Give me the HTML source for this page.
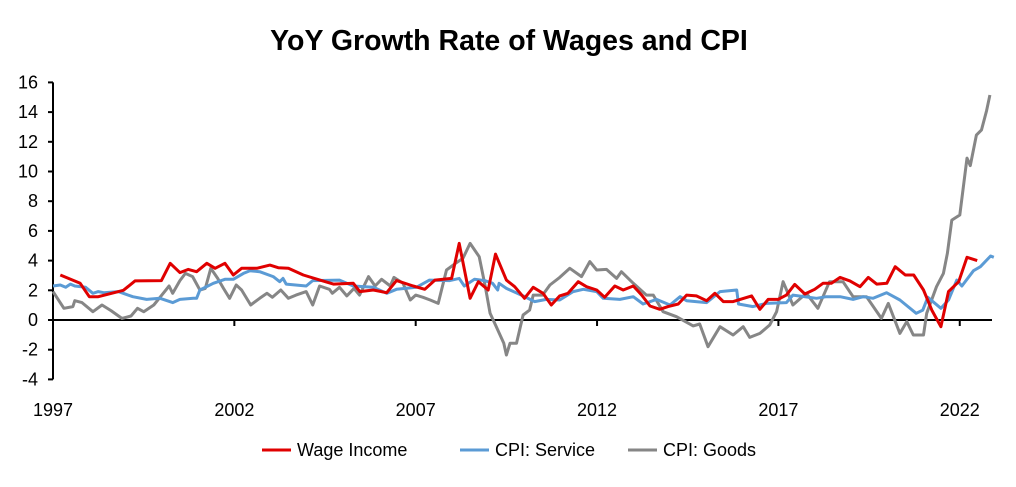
<!DOCTYPE html>
<html><head><meta charset="utf-8"><style>
body{margin:0;background:#fff;width:1016px;height:482px;overflow:hidden}
svg text{font-family:"Liberation Sans",sans-serif;fill:#000}
</style></head><body>
<svg id="chart" width="1016" height="482" viewBox="0 0 1016 482">
<text x="509" y="50" text-anchor="middle" font-size="28.5" font-weight="bold">YoY Growth Rate of Wages and CPI</text>
<g id="axes"></g>
<g id="series"></g>
<g id="legend"></g>
</svg>
<script>
const yTicks=[-4,-2,0,2,4,6,8,10,12,14,16];
const xTickYears=[1997,2002,2007,2012,2017,2022];
const wageT=[1997.2,1997.75,1998.0,1998.25,1998.94,1999.26,1999.99,2000.23,2000.5,2000.73,2000.96,2001.24,2001.47,2001.74,2001.97,2002.2,2002.62,2002.98,2003.21,2003.49,2003.9,2004.36,2004.73,2005.28,2005.46,2005.83,2006.2,2006.47,2006.93,2007.25,2007.53,2007.99,2008.2,2008.5,2008.73,2009.0,2009.2,2009.5,2009.73,2010.0,2010.24,2010.51,2010.74,2010.97,2011.2,2011.48,2011.71,2011.99,2012.21,2012.49,2012.72,2013.0,2013.23,2013.46,2013.73,2013.96,2014.24,2014.47,2014.74,2015.02,2015.25,2015.48,2015.75,2016.26,2016.49,2016.72,2016.99,2017.22,2017.45,2017.73,2018.0,2018.23,2018.46,2018.7,2018.97,2019.25,2019.48,2019.71,2019.99,2020.22,2020.5,2020.73,2021.0,2021.23,2021.48,2021.69,2021.97,2022.2,2022.48];
const wageV=[3.03,2.47,1.57,1.57,2.0,2.63,2.65,3.82,3.19,3.41,3.25,3.82,3.48,3.82,3.03,3.48,3.48,3.7,3.52,3.48,3.03,2.69,2.42,2.47,1.91,2.02,1.84,2.65,2.29,2.07,2.69,2.8,5.16,1.46,2.58,2.02,4.44,2.69,2.24,1.46,2.2,1.8,1.01,1.62,1.8,2.58,2.24,2.02,1.53,2.29,2.02,2.29,1.68,0.94,0.72,0.9,1.08,1.68,1.62,1.3,1.8,1.24,1.24,1.62,0.72,1.39,1.39,1.68,2.4,1.75,2.07,2.47,2.47,2.87,2.63,2.24,2.87,2.42,2.47,3.59,3.03,3.03,2.02,0.67,-0.45,1.91,2.58,4.22,4.0];
const svcT=[1997.0,1997.2,1997.35,1997.48,1997.6,1997.9,1998.1,1998.25,1998.4,1998.8,1999.2,1999.58,1999.95,2000.3,2000.5,2000.87,2000.96,2001.05,2001.42,2001.74,2001.97,2002.25,2002.43,2002.7,2003.07,2003.25,2003.34,2003.43,2003.98,2004.16,2004.9,2005.28,2005.83,2006.2,2006.47,2007.02,2007.38,2007.94,2008.2,2008.34,2008.62,2008.9,2009.12,2009.26,2009.3,2009.5,2009.6,2009.96,2010.28,2010.6,2010.97,2011.34,2011.62,2011.99,2012.17,2012.63,2013.0,2013.27,2013.64,2014.01,2014.29,2014.47,2015.02,2015.39,2015.85,2015.9,2016.3,2016.67,2017.22,2017.4,2018.05,2018.32,2018.7,2019.06,2019.34,2019.61,2019.98,2020.35,2020.8,2020.98,2021.12,2021.48,2021.69,2021.92,2022.06,2022.38,2022.57,2022.85,2022.94];
const svcV=[2.29,2.36,2.2,2.42,2.29,2.2,1.8,1.91,1.84,1.91,1.57,1.39,1.46,1.17,1.39,1.46,1.46,2.02,2.47,2.74,2.74,3.14,3.32,3.25,2.92,2.58,2.8,2.42,2.29,2.65,2.69,2.29,2.2,1.8,2.07,2.2,2.69,2.65,2.8,2.29,2.74,2.65,2.47,2.02,2.47,2.13,2.02,1.62,1.24,1.39,1.35,1.91,2.07,1.91,1.46,1.39,1.57,1.08,1.39,1.01,1.57,1.3,1.17,1.91,2.02,1.08,0.9,1.12,1.17,1.68,1.46,1.57,1.57,1.39,1.57,1.46,1.84,1.35,0.45,0.67,1.53,0.79,1.35,2.69,2.29,3.32,3.59,4.31,4.22];
const goodsT=[1997.0,1997.3,1997.55,1997.6,1997.8,1998.1,1998.35,1998.6,1998.9,1999.15,1999.33,1999.5,1999.78,2000.0,2000.2,2000.3,2000.5,2000.65,2000.85,2001.05,2001.2,2001.35,2001.54,2001.7,2001.87,2002.05,2002.2,2002.45,2002.7,2002.9,2003.05,2003.28,2003.49,2003.7,2003.98,2004.16,2004.35,2004.62,2004.7,2004.9,2005.1,2005.3,2005.45,2005.7,2005.88,2006.06,2006.3,2006.4,2006.65,2006.85,2007.0,2007.2,2007.4,2007.62,2007.85,2008.1,2008.3,2008.5,2008.75,2008.92,2009.05,2009.2,2009.43,2009.5,2009.6,2009.78,2009.96,2010.14,2010.24,2010.5,2010.7,2010.97,2011.25,2011.57,2011.8,2011.99,2012.26,2012.54,2012.67,2013.0,2013.36,2013.55,2013.82,2014.19,2014.65,2014.83,2015.06,2015.39,2015.75,2016.03,2016.21,2016.49,2016.76,2016.95,2017.13,2017.4,2017.77,2018.09,2018.41,2018.78,2019.06,2019.43,2019.84,2020.03,2020.35,2020.54,2020.72,2021.0,2021.09,2021.36,2021.55,2021.66,2021.78,2022.0,2022.2,2022.29,2022.46,2022.6,2022.74,2022.83];
const goodsV=[1.91,0.79,0.9,1.3,1.17,0.56,1.01,0.63,0.11,0.27,0.79,0.56,1.01,1.68,2.29,1.8,2.65,3.14,2.92,2.02,2.13,3.48,2.8,2.13,1.46,2.36,2.02,1.01,1.46,1.8,1.53,2.02,1.46,1.68,1.91,1.01,2.29,2.07,1.8,2.2,1.62,2.13,1.68,2.92,2.29,2.74,2.29,2.87,2.47,1.35,1.68,1.53,1.35,1.12,3.37,3.82,4.15,5.16,4.26,2.24,0.45,-0.34,-1.57,-2.36,-1.57,-1.57,0.34,0.67,1.68,1.68,2.36,2.87,3.48,2.92,3.93,3.37,3.41,2.8,3.25,2.47,1.68,1.68,0.56,0.22,-0.4,-0.27,-1.8,-0.45,-1.01,-0.45,-1.17,-0.9,-0.34,0.56,2.58,1.01,1.8,0.79,2.58,2.58,1.57,1.57,0.11,1.12,-0.9,-0.11,-1.01,-1.01,0.45,2.24,3.14,4.5,6.73,7.07,10.9,10.4,12.45,12.8,14.1,15.15];

const NS='http://www.w3.org/2000/svg';
const X0=53,PXY=36.27,Y0=320,PXV=14.85;
const xs=t=>X0+(t-1997)*PXY, ys=v=>Y0-v*PXV;
function mk(tag,attrs,parent){const e=document.createElementNS(NS,tag);for(const k in attrs)e.setAttribute(k,attrs[k]);parent.appendChild(e);return e;}
const axes=document.getElementById('axes');
let yAxis=mk('line',{x1:X0,x2:X0,y1:ys(16),y2:ys(-4),stroke:'#000','stroke-width':2},axes);


yTicks.forEach(v=>{
  const tk=mk('line',{x1:X0-5,x2:X0,y1:ys(v),y2:ys(v),stroke:'#000','stroke-width':2},axes);
  
  
  const tl=mk('text',{x:38,y:ys(v)+6,'text-anchor':'end','font-size':18},axes);
  tl.textContent=v;
  
  
});
let xAxis=mk('line',{x1:X0,x2:992,y1:Y0,y2:Y0,stroke:'#000','stroke-width':2},axes);


xTickYears.forEach(y=>{
  const tk=mk('line',{x1:xs(y),x2:xs(y),y1:Y0,y2:Y0+6,stroke:'#000','stroke-width':2},axes);
  
  
  const tl=mk('text',{x:xs(y),y:416,'text-anchor':'middle','font-size':18},axes);
  tl.textContent=y;
  
  
});
const ser=document.getElementById('series');
function draw(T,V,color,name){
  const d=T.map((t,i)=>(i?'L':'M')+xs(t).toFixed(1)+','+ys(V[i]).toFixed(1)).join('');
  const p=mk('path',{d:d,fill:'none',stroke:color,'stroke-width':3,'stroke-linejoin':'round'},ser);
  
  
}
draw(goodsT,goodsV,'#868686','cpi-goods-line');
draw(svcT,svcV,'#5b9bd5','cpi-service-line');
draw(wageT,wageV,'#e00000','wage-income-line');
const leg=document.getElementById('legend');
[['Wage Income','#e00000',262,'legend-wage-income'],['CPI: Service','#5b9bd5',460,'legend-cpi-service'],['CPI: Goods','#868686',628,'legend-cpi-goods']].forEach(a=>{
  const g=mk('g',{},leg);
  
  
  mk('line',{x1:a[2],x2:a[2]+29,y1:450,y2:450,stroke:a[1],'stroke-width':3},g);
  const t=mk('text',{x:a[2]+35,y:456,'font-size':18},g);
  t.textContent=a[0];
});
</script>
</body></html>
